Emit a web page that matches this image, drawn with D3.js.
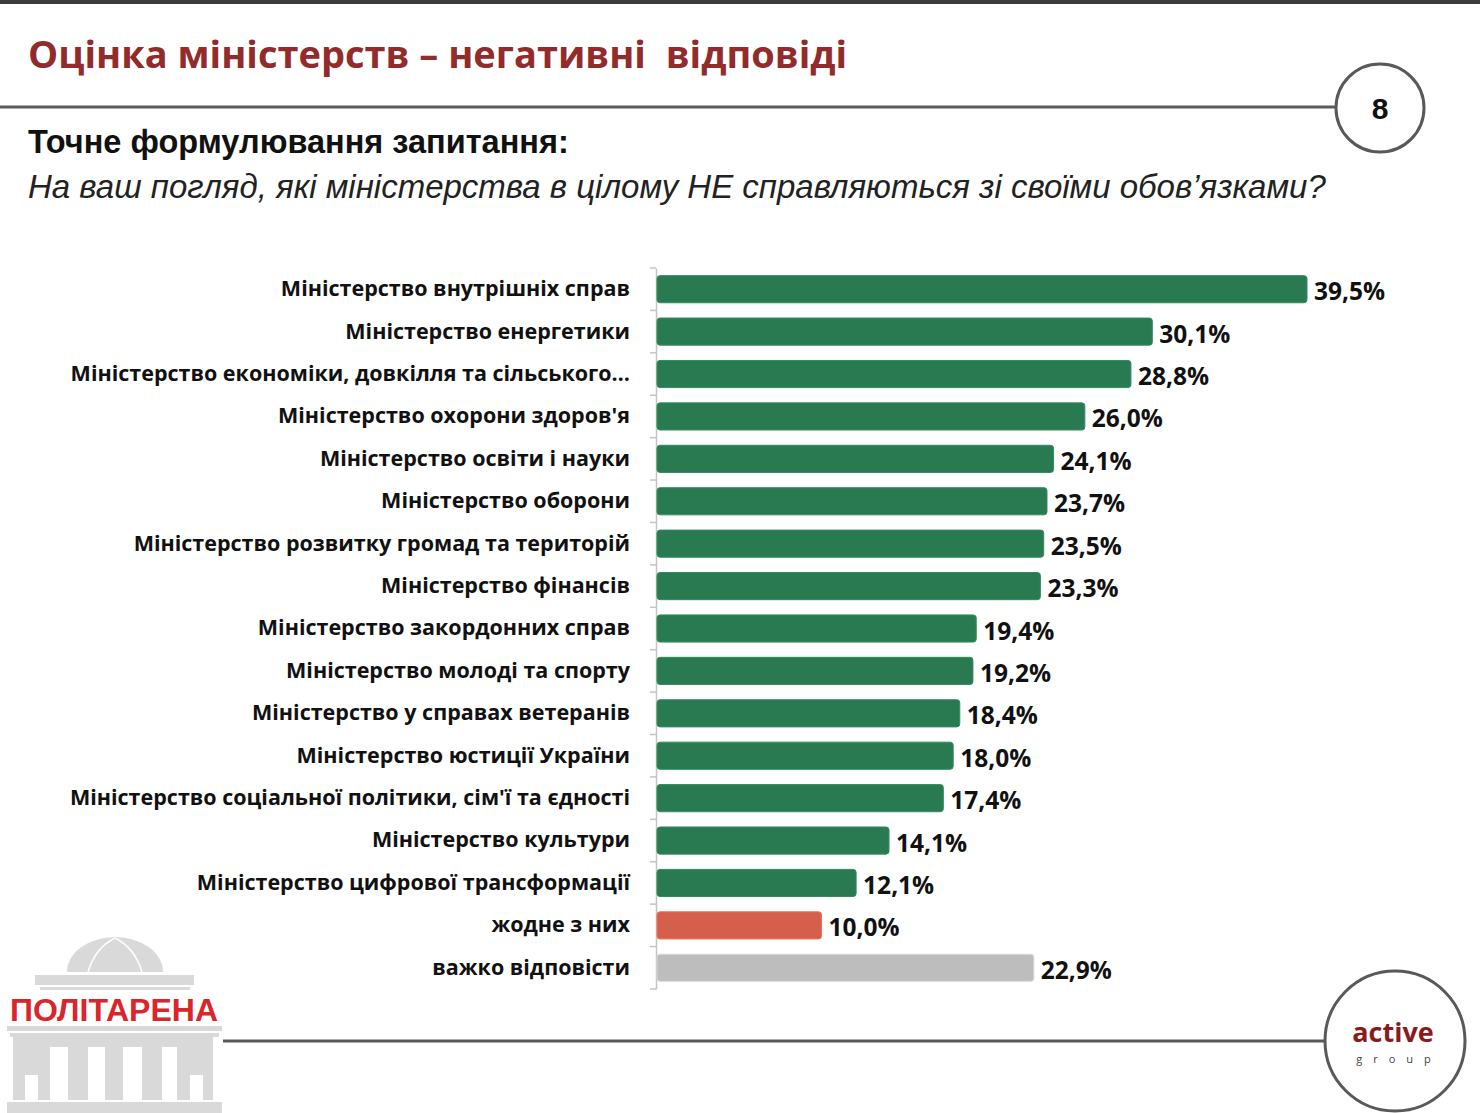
<!DOCTYPE html>
<html>
<head>
<meta charset="utf-8">
<script src="https://cdn.jsdelivr.net/npm/d3@7"></script>
<style>
  body { margin: 0; background: #fff; }
  svg { display: block; }
</style>
</head>
<body>
<div id="chart"></div>
<script>
var categories = [
    "Міністерство внутрішніх справ",
    "Міністерство енергетики",
    "Міністерство економіки, довкілля та сільського…",
    "Міністерство охорони здоров'я",
    "Міністерство освіти і науки",
    "Міністерство оборони",
    "Міністерство розвитку громад та територій",
    "Міністерство фінансів",
    "Міністерство закордонних справ",
    "Міністерство молоді та спорту",
    "Міністерство у справах ветеранів",
    "Міністерство юстиції України",
    "Міністерство соціальної політики, сім'ї та єдності",
    "Міністерство культури",
    "Міністерство цифрової трансформації",
    "жодне з них",
    "важко відповісти"
];
var values = [39.5, 30.1, 28.8, 26.0, 24.1, 23.7, 23.5, 23.3, 19.4, 19.2, 18.4, 18.0, 17.4, 14.1, 12.1, 10.0, 22.9];
var noneLabel = "жодне з них";
var hardLabel = "важко відповісти";

var titleText = "Оцінка міністерств – негативні  відповіді";
var subtitleText = "Точне формулювання запитання:";
var questionText = "На ваш погляд, які міністерства в цілому НЕ справляються зі своїми обов’язками?";
var pageNumber = "8";

(function () {
    const width = 1480;
    const height = 1113;
    const lineColour = "#58595b";

    var svg = d3.select("#chart").append("svg")
        .attr("width", width)
        .attr("height", height);

    // header
    svg.append("rect").attr("x", 0).attr("y", 0).attr("width", width).attr("height", 4).attr("fill", "#3b3b3b");

    svg.append("text")
        .attr("x", 28).attr("y", 68)
        .attr("font-family", "'Open Sans', sans-serif")
        .attr("font-weight", 700)
        .attr("font-size", 38)
        .attr("fill", "#922b2b")
        .style("white-space", "pre")
        .text(titleText);

    svg.append("line")
        .attr("x1", 0).attr("x2", 1337).attr("y1", 107).attr("y2", 107)
        .attr("stroke", lineColour).attr("stroke-width", 3);

    svg.append("circle")
        .attr("cx", 1380).attr("cy", 108).attr("r", 44)
        .attr("fill", "#fff").attr("stroke", lineColour).attr("stroke-width", 3);

    svg.append("text")
        .attr("x", 1380).attr("y", 119)
        .attr("text-anchor", "middle")
        .attr("font-family", "'Liberation Sans', Arial, sans-serif")
        .attr("font-weight", 700)
        .attr("font-size", 30)
        .attr("fill", "#111")
        .text(pageNumber);

    svg.append("text")
        .attr("x", 28).attr("y", 153)
        .attr("font-family", "'Liberation Sans', Arial, sans-serif")
        .attr("font-weight", 700)
        .attr("font-size", 32.5)
        .attr("fill", "#111")
        .text(subtitleText);

    svg.append("text")
        .attr("x", 28).attr("y", 198)
        .attr("font-family", "'Liberation Sans', Arial, sans-serif")
        .attr("font-style", "italic")
        .attr("font-size", 33)
        .attr("fill", "#222")
        .text(questionText);

    // chart
    var x = d3.scaleLinear()
        .domain([0, 39.5])
        .range([657, 1307]);

    var y = d3.scaleBand()
        .domain(categories)
        .range([268, 989])
        .paddingInner(0.36)
        .paddingOuter(0.18);

    function barColour(name) {
        if (name === noneLabel) return "#d65f4b";
        if (name === hardLabel) return "#bdbdbd";
        return "#2a7a51";
    }

    var axis = d3.axisLeft(y)
        .tickSize(0)
        .tickPadding(26);

    var axisG = svg.append("g")
        .attr("transform", "translate(656,0)")
        .call(axis);

    axisG.select(".domain").attr("stroke", "#c4c4c4").attr("stroke-width", 1.5);
    axisG.selectAll(".tick text")
        .attr("font-family", "'Open Sans', sans-serif")
        .attr("font-weight", 700)
        .attr("font-size", 21.5)
        .attr("fill", "#111");

    // separator ticks at band boundaries
    var step = y.step();
    var boundaries = d3.range(categories.length + 1).map(function (i) {
        return y.range()[0] + i * step;
    });
    svg.append("g").selectAll("line")
        .data(boundaries)
        .enter().append("line")
        .attr("x1", 650).attr("x2", 656)
        .attr("y1", function (d) { return d; })
        .attr("y2", function (d) { return d; })
        .attr("stroke", "#c4c4c4").attr("stroke-width", 1.5);

    var rows = categories.map(function (c, i) { return { name: c, value: values[i] }; });

    svg.append("g").selectAll("rect")
        .data(rows)
        .enter().append("rect")
        .attr("x", x(0))
        .attr("y", function (d) { return y(d.name); })
        .attr("width", function (d) { return x(d.value) - x(0); })
        .attr("height", y.bandwidth())
        .attr("rx", 3)
        .attr("fill", function (d) { return barColour(d.name); })
        .attr("stroke", function (d) { return d3.color(barColour(d.name)).brighter(0.4); })
        .attr("stroke-width", 1);

    svg.append("g").selectAll("text")
        .data(rows)
        .enter().append("text")
        .attr("x", function (d) { return x(d.value) + 7; })
        .attr("y", function (d) { return y(d.name) + y.bandwidth() / 2; })
        .attr("dy", "0.45em")
        .attr("font-family", "'Open Sans', sans-serif")
        .attr("font-weight", 700)
        .attr("font-size", 24.5)
        .attr("fill", "#111")
        .text(function (d) { return d.value.toFixed(1).replace(".", ",") + "%"; });

    // footer
    svg.append("line")
        .attr("x1", 223).attr("x2", 1326).attr("y1", 1041).attr("y2", 1041)
        .attr("stroke", lineColour).attr("stroke-width", 3);

    svg.append("circle")
        .attr("cx", 1395).attr("cy", 1041).attr("r", 70)
        .attr("fill", "#fff").attr("stroke", lineColour).attr("stroke-width", 3);

    svg.append("text")
        .attr("x", 1393).attr("y", 1042)
        .attr("text-anchor", "middle")
        .attr("font-family", "'Open Sans', sans-serif")
        .attr("font-weight", 700)
        .attr("font-size", 27)
        .attr("fill", "#8a1b1b")
        .text("active");

    svg.append("text")
        .attr("x", 1399).attr("y", 1063)
        .attr("text-anchor", "middle")
        .attr("font-family", "'Open Sans', sans-serif")
        .attr("font-size", 11)
        .attr("letter-spacing", 11)
        .attr("fill", "#444")
        .text("group");

    // politarena logo
    var logo = svg.append("g").attr("fill", "#d9d9d9");
    logo.append("path")
        .attr("d", "M67,972 A48,35 0 0 1 163,972 Z");
    logo.append("path")
        .attr("d", "M88,972 Q95,948 115,938 M142,972 Q135,948 115,938")
        .attr("fill", "none").attr("stroke", "#fff").attr("stroke-width", 1.5);
    var logoRects = [
        [35, 975, 159, 10], [40, 987, 150, 3],
        [7, 1026, 215, 5], [10, 1033, 209, 4],
        [13, 1037, 37, 63], [68, 1047, 20, 53], [105, 1037, 18, 63],
        [142, 1047, 20, 53], [177, 1037, 36, 63], [13, 1037, 200, 10],
        [7, 1102, 215, 11]
    ];
    logo.selectAll("rect.block")
        .data(logoRects)
        .enter().append("rect")
        .attr("class", "block")
        .attr("x", function (d) { return d[0]; })
        .attr("y", function (d) { return d[1]; })
        .attr("width", function (d) { return d[2]; })
        .attr("height", function (d) { return d[3]; });
    logo.selectAll("rect.notch")
        .data([[25, 1075, 13, 25], [190, 1075, 13, 25], [51, 1047, 17, 53], [88, 1047, 17, 53], [123, 1047, 19, 53], [162, 1047, 15, 53]])
        .enter().append("rect")
        .attr("class", "notch")
        .attr("x", function (d) { return d[0]; })
        .attr("y", function (d) { return d[1]; })
        .attr("width", function (d) { return d[2]; })
        .attr("height", function (d) { return d[3]; })
        .attr("fill", "#fff");

    svg.append("text")
        .attr("x", 114).attr("y", 1021)
        .attr("text-anchor", "middle")
        .attr("font-family", "'Liberation Sans', Arial, sans-serif")
        .attr("font-weight", 700)
        .attr("font-size", 32)
        .attr("fill", "#d8262c")
        .text("ПОЛІТАРЕНА");
}());
</script>
</body>
</html>
